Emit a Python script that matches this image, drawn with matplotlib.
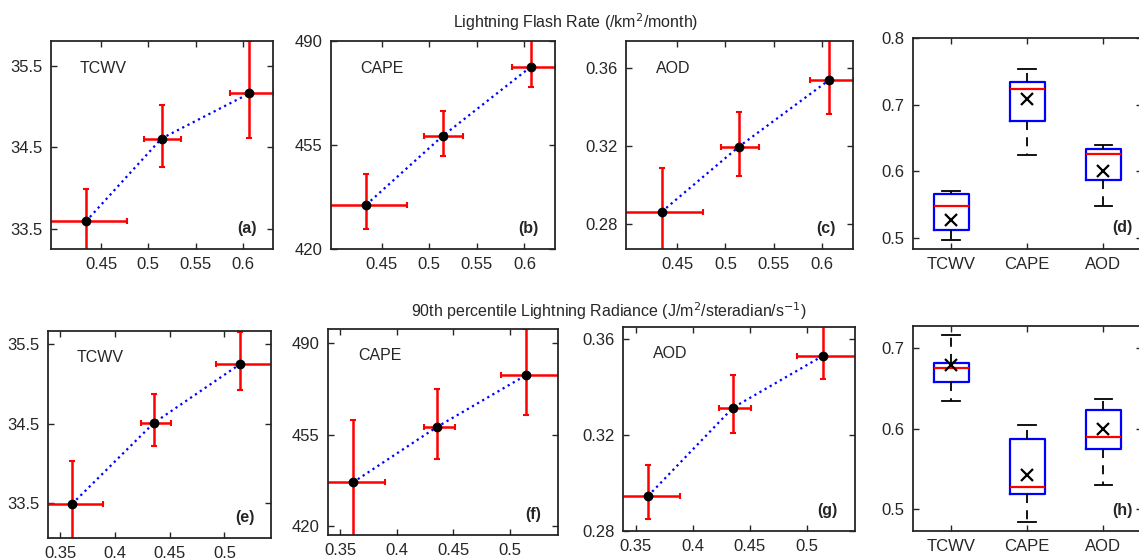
import matplotlib
matplotlib.use('Agg')
import matplotlib.pyplot as plt

plt.rcParams['font.family'] = ['Liberation Sans', 'DejaVu Sans']
plt.rcParams['text.color'] = '#262626'

W, H = 1139, 560

# ---- top row: lightning flash rate bins
flash_x = [0.434, 0.514, 0.607]
flash_xerr_lo = [0.043, 0.019, 0.020]
flash_xerr_hi = [0.043, 0.021, 0.026]

flash_tcwv = [33.59, 34.61, 35.165]
flash_tcwv_lo = [0.40, 0.35, 0.545]
flash_tcwv_hi = [0.40, 0.41, 0.65]

flash_cape = [434.9, 458.0, 481.4]
flash_cape_lo = [8.1, 6.6, 6.9]
flash_cape_hi = [10.4, 8.6, 9.0]

flash_aod = [0.2863, 0.3197, 0.3537]
flash_aod_lo = [0.0225, 0.0153, 0.0172]
flash_aod_hi = [0.0225, 0.0175, 0.021]

# ---- bottom row: 90th percentile lightning radiance bins
rad_x = [0.361, 0.4355, 0.5140]
rad_xerr_lo = [0.028, 0.012, 0.022]
rad_xerr_hi = [0.028, 0.016, 0.030]

rad_tcwv = [33.49, 34.51, 35.25]
rad_tcwv_lo = [0.535, 0.284, 0.32]
rad_tcwv_hi = [0.535, 0.364, 0.41]

rad_cape = [436.8, 458.05, 477.8]
rad_cape_lo = [23.7, 12.2, 15.2]
rad_cape_hi = [23.7, 14.5, 17.7]

rad_aod = [0.2946, 0.3314, 0.3529]
rad_aod_lo = [0.0096, 0.0107, 0.0094]
rad_aod_hi = [0.0127, 0.0136, 0.0125]

# ---- box plot statistics
box_names = ['TCWV', 'CAPE', 'AOD']
flash_whislo = [0.4964, 0.6238, 0.5474]
flash_q1 = [0.5124, 0.6754, 0.5870]
flash_med = [0.5474, 0.7238, 0.6264]
flash_q3 = [0.5664, 0.7334, 0.6339]
flash_whishi = [0.5709, 0.7534, 0.6394]
flash_mean = [0.5264, 0.7084, 0.6009]

rad_whislo = [0.6336, 0.4838, 0.5299]
rad_q1 = [0.6577, 0.5191, 0.5743]
rad_med = [0.6755, 0.5274, 0.5896]
rad_q3 = [0.6817, 0.5867, 0.6227]
rad_whishi = [0.7162, 0.6041, 0.6361]
rad_mean = [0.6788, 0.5419, 0.5995]


def px_axes(fig, left, right, top, bottom):
    return fig.add_axes([left / W, 1 - bottom / H, (right - left) / W, (bottom - top) / H])


def style(ax):
    for s in ax.spines.values():
        s.set_color('#262626')
        s.set_linewidth(1.3)
    ax.tick_params(direction='in', length=4, width=1, colors='#262626',
                   top=True, right=True, labelsize=12)
    ax.tick_params(axis='x', pad=6)
    ax.tick_params(axis='y', pad=6)


def errpanel(ax, x, xlo, xhi, y, ylo, yhi, name, tag, xlim, ylim, xticks, yticks, yfmt):
    ax.errorbar(x, y, xerr=[xlo, xhi], yerr=[ylo, yhi], fmt='none', ecolor='red',
                elinewidth=1.8, capsize=2, capthick=1.5, zorder=2)
    ax.plot(x, y, ':', color='blue', linewidth=1.6, zorder=3)
    ax.plot(x, y, 'o', color='black', markersize=6, zorder=4)
    ax.set_xlim(xlim)
    ax.set_ylim(ylim)
    ax.set_xticks(xticks)
    ax.set_xticklabels(['%g' % t for t in xticks])
    ax.set_yticks(yticks)
    ax.set_yticklabels([yfmt % t for t in yticks])
    ax.text(0.13, 0.87, name, transform=ax.transAxes, fontsize=11.5, va='center')
    ax.text(0.925, 0.1, tag, transform=ax.transAxes, fontsize=11.5, fontweight='bold',
            ha='right', va='center')
    style(ax)


def boxpanel(ax, whislo, q1, med, q3, whishi, mean, tag, ylim, yticks):
    stats = []
    for i in range(len(box_names)):
        stats.append({'whislo': whislo[i], 'q1': q1[i], 'med': med[i], 'q3': q3[i],
                      'whishi': whishi[i], 'mean': mean[i], 'fliers': [],
                      'label': box_names[i]})
    ax.bxp(stats, positions=[1, 2, 3], widths=0.46, showmeans=True,
           boxprops=dict(color='blue', linewidth=1.6),
           medianprops=dict(color='red', linewidth=1.6),
           whiskerprops=dict(color='black', linewidth=1.3, linestyle=(0, (5, 4))),
           capprops=dict(color='black', linewidth=1.3),
           meanprops=dict(marker='x', markeredgecolor='black', markersize=8,
                          markeredgewidth=1.6))
    ax.set_xlim(0.5, 3.5)
    ax.set_ylim(ylim)
    ax.set_yticks(yticks)
    ax.set_yticklabels(['%g' % t for t in yticks])
    ax.text(3.38, ylim[0] + 0.1 * (ylim[1] - ylim[0]), tag, fontsize=11.5,
            fontweight='bold', ha='right', va='center')
    style(ax)


fig = plt.figure(figsize=(W / 100, H / 100), dpi=100, facecolor='w')

top_xlim = (0.397, 0.632)
top_xt = [0.45, 0.5, 0.55, 0.6]
bot_xlim = (0.339, 0.5425)
bot_xt = [0.35, 0.4, 0.45, 0.5]

ax = px_axes(fig, 51, 273, 41, 249)
errpanel(ax, flash_x, flash_xerr_lo, flash_xerr_hi, flash_tcwv, flash_tcwv_lo, flash_tcwv_hi,
         'TCWV', '(a)', top_xlim, (33.25, 35.81), top_xt, [33.5, 34.5, 35.5], '%.1f')
ax = px_axes(fig, 331, 555, 41, 249)
errpanel(ax, flash_x, flash_xerr_lo, flash_xerr_hi, flash_cape, flash_cape_lo, flash_cape_hi,
         'CAPE', '(b)', top_xlim, (420, 490), top_xt, [420, 455, 490], '%g')
ax = px_axes(fig, 626, 853, 41, 249)
errpanel(ax, flash_x, flash_xerr_lo, flash_xerr_hi, flash_aod, flash_aod_lo, flash_aod_hi,
         'AOD', '(c)', top_xlim, (0.2672, 0.3738), top_xt, [0.28, 0.32, 0.36], '%.2f')
ax = px_axes(fig, 913, 1141.5, 38, 249)
boxpanel(ax, flash_whislo, flash_q1, flash_med, flash_q3, flash_whishi, flash_mean,
         '(d)', (0.4835, 0.8), [0.5, 0.6, 0.7, 0.8])

ax = px_axes(fig, 48, 271, 331, 538)
errpanel(ax, rad_x, rad_xerr_lo, rad_xerr_hi, rad_tcwv, rad_tcwv_lo, rad_tcwv_hi,
         'TCWV', '(e)', bot_xlim, (33.06, 35.67), bot_xt, [33.5, 34.5, 35.5], '%.1f')
ax = px_axes(fig, 328, 558, 329, 535)
errpanel(ax, rad_x, rad_xerr_lo, rad_xerr_hi, rad_cape, rad_cape_lo, rad_cape_hi,
         'CAPE', '(f)', bot_xlim, (416.7, 495.5), bot_xt, [420, 455, 490], '%g')
ax = px_axes(fig, 623, 855, 327, 531)
errpanel(ax, rad_x, rad_xerr_lo, rad_xerr_hi, rad_aod, rad_aod_lo, rad_aod_hi,
         'AOD', '(g)', bot_xlim, (0.28, 0.365), bot_xt, [0.28, 0.32, 0.36], '%.2f')
ax = px_axes(fig, 913, 1141.5, 326, 531)
boxpanel(ax, rad_whislo, rad_q1, rad_med, rad_q3, rad_whishi, rad_mean,
         '(h)', (0.4726, 0.7274), [0.5, 0.6, 0.7])

fig.text(576 / W, 1 - 22 / H, 'Lightning Flash Rate (/km$^2$/month)',
         ha='center', va='center', fontsize=11.5)
fig.text(609 / W, 1 - 311 / H, '90th percentile Lightning Radiance (J/m$^2$/steradian/s$^{-1}$)',
         ha='center', va='center', fontsize=11.5)

fig.savefig('out.png', dpi=100, facecolor='w')
plt.close()
